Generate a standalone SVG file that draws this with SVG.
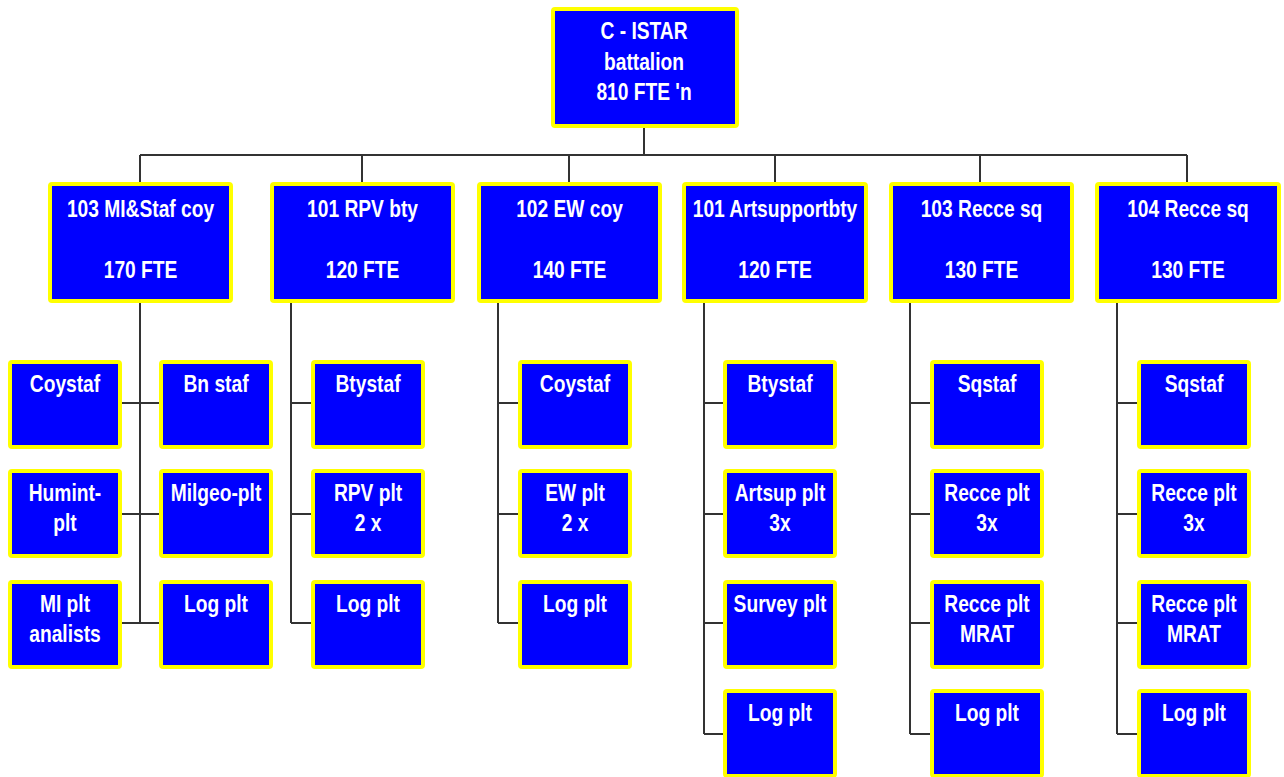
<svg xmlns="http://www.w3.org/2000/svg" width="1284" height="777" viewBox="0 0 1284 777">
<style>
.box{fill:#0000FF;stroke:#FFFF00;stroke-width:4}
.t{fill:#FFFFFF;font-family:"Liberation Sans",Arial,sans-serif;font-weight:bold;font-size:24px;text-anchor:middle}
.c{fill:none;stroke:#333333;stroke-width:2}
</style>
<rect width="1284" height="777" fill="#FFFFFF"/>
<g id="connectors" class="c">
<path d="M644 128V155M140 155H1187M140 155V182M362 155V182M569 155V182M775 155V182M980 155V182M1187 155V182"/>
<path d="M140 303V623M122 403H159M122 514H159M122 623H159"/>
<path d="M291 303V623M291 403H311M291 514H311M291 623H311"/>
<path d="M498 303V623M498 403H518M498 514H518M498 623H518"/>
<path d="M704 303V734M704 403H723M704 514H723M704 623H723M704 734H723"/>
<path d="M910 303V734M910 403H930M910 514H930M910 623H930M910 734H930"/>
<path d="M1117 303V734M1117 403H1137M1117 514H1137M1117 623H1137M1117 734H1137"/>
</g>
<g id="n-top"><rect class="box" x="553" y="9" width="184" height="117" rx="2"/><text class="t" transform="translate(644 39) scale(0.8 1)">C - ISTAR</text><text class="t" transform="translate(644 70) scale(0.8 1)">battalion</text><text class="t" transform="translate(644 100) scale(0.8 1)">810 FTE 'n</text></g>
<g id="n-103mi"><rect class="box" x="50" y="184" width="181" height="117" rx="2"/><text class="t" transform="translate(140.5 217) scale(0.8 1)">103 MI&amp;Staf coy</text><text class="t" transform="translate(140.5 278) scale(0.8 1)">170 FTE</text></g>
<g id="n-101rpv"><rect class="box" x="272" y="184" width="181" height="117" rx="2"/><text class="t" transform="translate(362.5 217) scale(0.8 1)">101 RPV bty</text><text class="t" transform="translate(362.5 278) scale(0.8 1)">120 FTE</text></g>
<g id="n-102ew"><rect class="box" x="479" y="184" width="181" height="117" rx="2"/><text class="t" transform="translate(569.5 217) scale(0.8 1)">102 EW coy</text><text class="t" transform="translate(569.5 278) scale(0.8 1)">140 FTE</text></g>
<g id="n-101art"><rect class="box" x="684" y="184" width="182" height="117" rx="2"/><text class="t" transform="translate(775 217) scale(0.8 1)">101 Artsupportbty</text><text class="t" transform="translate(775 278) scale(0.8 1)">120 FTE</text></g>
<g id="n-103recce"><rect class="box" x="891" y="184" width="181" height="117" rx="2"/><text class="t" transform="translate(981.5 217) scale(0.8 1)">103 Recce sq</text><text class="t" transform="translate(981.5 278) scale(0.8 1)">130 FTE</text></g>
<g id="n-104recce"><rect class="box" x="1097" y="184" width="182" height="117" rx="2"/><text class="t" transform="translate(1188 217) scale(0.8 1)">104 Recce sq</text><text class="t" transform="translate(1188 278) scale(0.8 1)">130 FTE</text></g>

<g id="n-g1-coystaf"><rect class="box" x="10" y="362" width="110" height="85" rx="2"/><text class="t" transform="translate(65 392) scale(0.8 1)">Coystaf</text></g>
<g id="n-g1-humint"><rect class="box" x="10" y="471" width="110" height="85" rx="2"/><text class="t" transform="translate(65 501) scale(0.8 1)">Humint-</text><text class="t" transform="translate(65 531) scale(0.8 1)">plt</text></g>
<g id="n-g1-mi"><rect class="box" x="10" y="582" width="110" height="85" rx="2"/><text class="t" transform="translate(65 612) scale(0.8 1)">MI plt</text><text class="t" transform="translate(65 642) scale(0.8 1)">analists</text></g>
<g id="n-g1-bnstaf"><rect class="box" x="161" y="362" width="110" height="85" rx="2"/><text class="t" transform="translate(216 392) scale(0.8 1)">Bn staf</text></g>
<g id="n-g1-milgeo"><rect class="box" x="161" y="471" width="110" height="85" rx="2"/><text class="t" transform="translate(216 501) scale(0.8 1)">Milgeo-plt</text></g>
<g id="n-g1-log"><rect class="box" x="161" y="582" width="110" height="85" rx="2"/><text class="t" transform="translate(216 612) scale(0.8 1)">Log plt</text></g>

<g id="n-g2-btystaf"><rect class="box" x="313" y="362" width="110" height="85" rx="2"/><text class="t" transform="translate(368 392) scale(0.8 1)">Btystaf</text></g>
<g id="n-g2-rpv"><rect class="box" x="313" y="471" width="110" height="85" rx="2"/><text class="t" transform="translate(368 501) scale(0.8 1)">RPV plt</text><text class="t" transform="translate(368 531) scale(0.8 1)">2 x</text></g>
<g id="n-g2-log"><rect class="box" x="313" y="582" width="110" height="85" rx="2"/><text class="t" transform="translate(368 612) scale(0.8 1)">Log plt</text></g>

<g id="n-g3-coystaf"><rect class="box" x="520" y="362" width="110" height="85" rx="2"/><text class="t" transform="translate(575 392) scale(0.8 1)">Coystaf</text></g>
<g id="n-g3-ew"><rect class="box" x="520" y="471" width="110" height="85" rx="2"/><text class="t" transform="translate(575 501) scale(0.8 1)">EW plt</text><text class="t" transform="translate(575 531) scale(0.8 1)">2 x</text></g>
<g id="n-g3-log"><rect class="box" x="520" y="582" width="110" height="85" rx="2"/><text class="t" transform="translate(575 612) scale(0.8 1)">Log plt</text></g>

<g id="n-g4-btystaf"><rect class="box" x="725" y="362" width="110" height="85" rx="2"/><text class="t" transform="translate(780 392) scale(0.8 1)">Btystaf</text></g>
<g id="n-g4-artsup"><rect class="box" x="725" y="471" width="110" height="85" rx="2"/><text class="t" transform="translate(780 501) scale(0.8 1)">Artsup plt</text><text class="t" transform="translate(780 531) scale(0.8 1)">3x</text></g>
<g id="n-g4-survey"><rect class="box" x="725" y="582" width="110" height="85" rx="2"/><text class="t" transform="translate(780 612) scale(0.8 1)">Survey plt</text></g>
<g id="n-g4-log"><rect class="box" x="725" y="691" width="110" height="85" rx="2"/><text class="t" transform="translate(780 721) scale(0.8 1)">Log plt</text></g>

<g id="n-g5-sqstaf"><rect class="box" x="932" y="362" width="110" height="85" rx="2"/><text class="t" transform="translate(987 392) scale(0.8 1)">Sqstaf</text></g>
<g id="n-g5-recce3x"><rect class="box" x="932" y="471" width="110" height="85" rx="2"/><text class="t" transform="translate(987 501) scale(0.8 1)">Recce plt</text><text class="t" transform="translate(987 531) scale(0.8 1)">3x</text></g>
<g id="n-g5-mrat"><rect class="box" x="932" y="582" width="110" height="85" rx="2"/><text class="t" transform="translate(987 612) scale(0.8 1)">Recce plt</text><text class="t" transform="translate(987 642) scale(0.8 1)">MRAT</text></g>
<g id="n-g5-log"><rect class="box" x="932" y="691" width="110" height="85" rx="2"/><text class="t" transform="translate(987 721) scale(0.8 1)">Log plt</text></g>

<g id="n-g6-sqstaf"><rect class="box" x="1139" y="362" width="110" height="85" rx="2"/><text class="t" transform="translate(1194 392) scale(0.8 1)">Sqstaf</text></g>
<g id="n-g6-recce3x"><rect class="box" x="1139" y="471" width="110" height="85" rx="2"/><text class="t" transform="translate(1194 501) scale(0.8 1)">Recce plt</text><text class="t" transform="translate(1194 531) scale(0.8 1)">3x</text></g>
<g id="n-g6-mrat"><rect class="box" x="1139" y="582" width="110" height="85" rx="2"/><text class="t" transform="translate(1194 612) scale(0.8 1)">Recce plt</text><text class="t" transform="translate(1194 642) scale(0.8 1)">MRAT</text></g>
<g id="n-g6-log"><rect class="box" x="1139" y="691" width="110" height="85" rx="2"/><text class="t" transform="translate(1194 721) scale(0.8 1)">Log plt</text></g>
</svg>
